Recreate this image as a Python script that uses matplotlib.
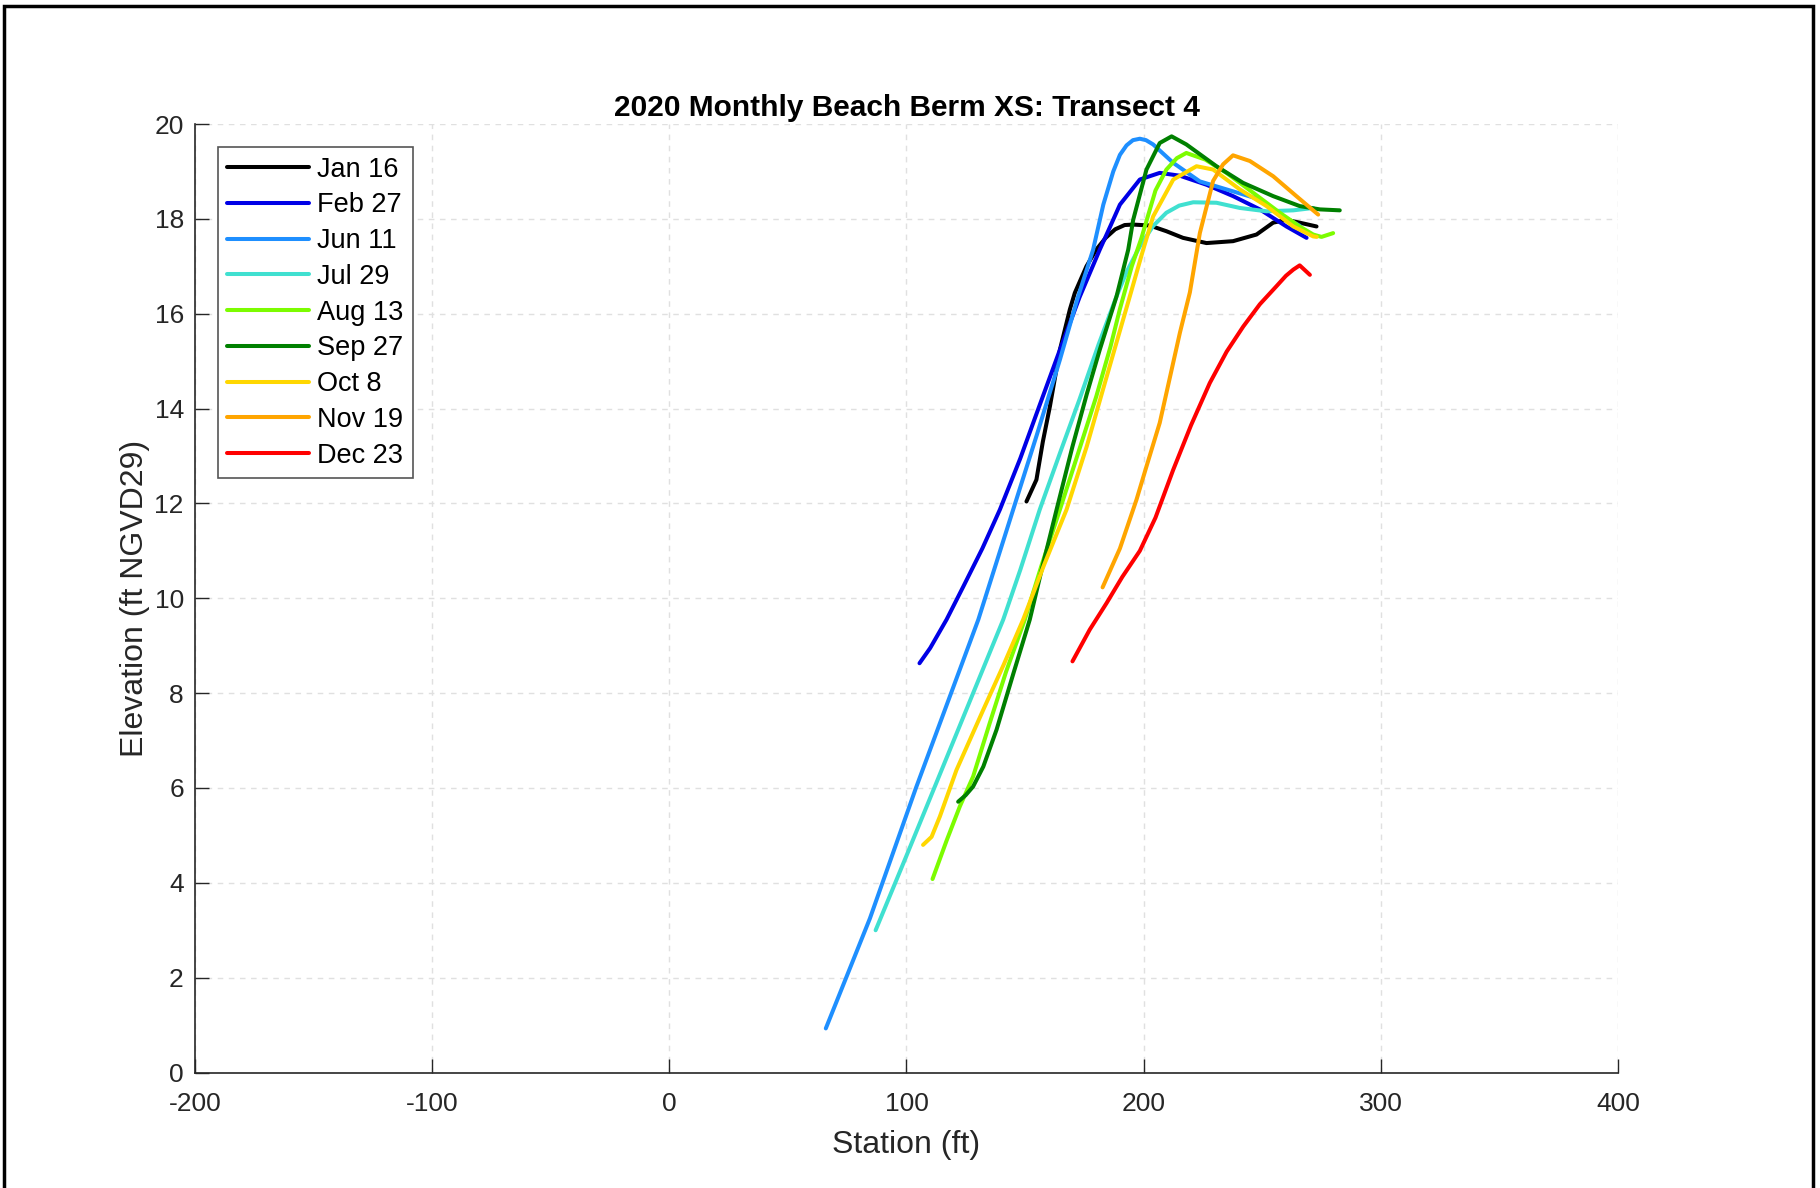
import matplotlib
matplotlib.use("Agg")
import matplotlib.pyplot as plt
from matplotlib.patches import Rectangle

plt.rcParams['font.family'] = ['Liberation Sans', 'DejaVu Sans']
plt.rcParams['axes.unicode_minus'] = False

# survey dates and colours
labels = ["Jan 16", "Feb 27", "Jun 11", "Jul 29", "Aug 13", "Sep 27", "Oct 8", "Nov 19", "Dec 23"]
colors = ["#000000", "#0000e6", "#1e8fff", "#40e0d0", "#7cfc00", "#008000", "#ffd700", "#ffa500", "#ff0000"]

# station (ft) / elevation (ft NGVD29) per survey
jan_x = [150.6, 154.8, 157.5, 160.5, 164.7, 168.9, 171.0, 175.9, 180.0, 184, 188, 192, 195.6, 202.6, 209.6, 216.6, 226.5, 237.7, 247.6, 254.6, 260.2, 265.8, 272.9]
jan_y = [12.04, 12.5, 13.3, 14.05, 15.24, 16.09, 16.44, 17.0, 17.35, 17.6, 17.78, 17.87, 17.88, 17.86, 17.74, 17.6, 17.49, 17.53, 17.67, 17.92, 17.98, 17.92, 17.84]

feb_x = [105.5, 110, 116.9, 124, 132, 139.4, 148, 156, 164.7, 173, 181.5, 186, 190, 198.4, 206.8, 215.3, 226.5, 237.7, 249, 260.2, 268.7]
feb_y = [8.63, 8.95, 9.55, 10.25, 11.05, 11.87, 12.95, 14.05, 15.24, 16.35, 17.35, 17.85, 18.3, 18.83, 18.97, 18.91, 18.72, 18.48, 18.2, 17.84, 17.6]

jun_x = [66, 84.6, 104, 130.3, 145, 155, 164.7, 172, 178.7, 183, 187.2, 190, 192.8, 195.5, 198.4, 201, 204, 212.5, 223.7, 237.7, 249, 256, 266]
jun_y = [0.93, 3.25, 6.0, 9.55, 11.87, 13.45, 15.03, 16.3, 17.35, 18.3, 19.0, 19.35, 19.55, 19.66, 19.69, 19.66, 19.57, 19.18, 18.79, 18.58, 18.41, 18.13, 17.85]

jul_x = [87, 100, 115, 130, 140.8, 148, 156.2, 165, 173, 181, 188.6, 193, 198.4, 204, 209.6, 215, 220.9, 230.7, 240.6, 251.8, 263.1, 271.5]
jul_y = [3.0, 4.57, 6.4, 8.23, 9.55, 10.6, 11.87, 13.1, 14.2, 15.35, 16.37, 16.9, 17.42, 17.85, 18.13, 18.28, 18.35, 18.34, 18.23, 18.16, 18.18, 18.23]

aug_x = [111, 117, 122.5, 128.1, 135, 142, 149.9, 157, 164.7, 172, 180, 186, 190, 195, 199.1, 205, 209.6, 214, 218, 226, 234.9, 246.2, 257.4, 265.8, 271.5, 275, 279.9]
aug_y = [4.08, 4.9, 5.61, 6.24, 7.35, 8.45, 9.55, 10.7, 11.87, 13.0, 14.25, 15.3, 16.1, 17.0, 17.6, 18.6, 19.04, 19.28, 19.39, 19.25, 18.97, 18.55, 18.13, 17.84, 17.67, 17.62, 17.7]

sep_x = [121.8, 125, 128.1, 132.4, 138, 145, 152, 157, 163.3, 170, 176, 181.5, 188.6, 193.5, 195.6, 201.2, 206.8, 211.8, 218, 230.7, 241.9, 254.6, 265.8, 274.3, 282.7]
sep_y = [5.71, 5.85, 6.03, 6.45, 7.23, 8.4, 9.55, 10.6, 11.87, 13.2, 14.3, 15.24, 16.37, 17.35, 17.98, 19.04, 19.6, 19.74, 19.57, 19.11, 18.76, 18.48, 18.27, 18.2, 18.18]

oct_x = [107, 110.6, 114.1, 121.1, 132.4, 141, 149.2, 158, 167.5, 176, 184, 194.2, 199.8, 204, 212.5, 222.3, 229.3, 240.6, 251.8, 263.1, 271.5, 273]
oct_y = [4.8, 4.97, 5.4, 6.38, 7.65, 8.6, 9.55, 10.7, 11.87, 13.2, 14.6, 16.37, 17.35, 18.05, 18.83, 19.11, 19.04, 18.62, 18.27, 17.84, 17.63, 17.62]

nov_x = [182.7, 190, 197, 201.2, 206.8, 215.3, 219.5, 223.7, 229.3, 233.5, 237.7, 244.8, 254.6, 264.4, 273.6]
nov_y = [10.23, 11.05, 12.08, 12.78, 13.7, 15.6, 16.45, 17.7, 18.8, 19.15, 19.34, 19.22, 18.9, 18.48, 18.09]

dec_x = [170, 177.3, 184.4, 191, 198.4, 205, 212.4, 220, 227.9, 235, 242, 249, 256, 260, 263.1, 265.8, 270.1]
dec_y = [8.67, 9.34, 9.9, 10.45, 11.0, 11.7, 12.7, 13.65, 14.54, 15.2, 15.73, 16.2, 16.58, 16.8, 16.93, 17.02, 16.82]

xs = [jan_x, feb_x, jun_x, jul_x, aug_x, sep_x, oct_x, nov_x, dec_x]
ys = [jan_y, feb_y, jun_y, jul_y, aug_y, sep_y, oct_y, nov_y, dec_y]

xticks = [-200, -100, 0, 100, 200, 300, 400]
yticks = [0, 2, 4, 6, 8, 10, 12, 14, 16, 18, 20]

fig = plt.figure(figsize=(18.2, 11.88), dpi=100)
ax = fig.add_axes([0.1071, 0.0972, 0.7819, 0.7984])

for x, y, c, lab in zip(xs, ys, colors, labels):
    ax.plot(x, y, color=c, lw=2.9, label=lab, solid_joinstyle='round', solid_capstyle='round')

ax.set_xlim(-200, 400)
ax.set_ylim(0, 20)
ax.set_xticks(xticks)
ax.set_yticks(yticks)
ax.grid(True, linestyle=(0, (4, 4)), color='#e0e0e0', lw=1)
ax.set_axisbelow(True)
for s in ['top', 'right']:
    ax.spines[s].set_visible(False)
for s in ['left', 'bottom']:
    ax.spines[s].set_color('#262626')
    ax.spines[s].set_linewidth(1.2)
ax.tick_params(direction='in', length=10, width=1, colors='#262626', labelsize=19)
ax.tick_params(axis='x', pad=14)
ax.tick_params(axis='y', pad=8)

ax.set_title("2020 Monthly Beach Berm XS: Transect 4", fontsize=21.5, fontweight='bold', pad=6)
ax.set_xlabel("Station (ft)", fontsize=23, color='#262626', labelpad=10)
ax.set_ylabel("Elevation (ft NGVD29)", fontsize=23, color='#262626', labelpad=3)

leg = ax.legend(loc='upper left', fontsize=19.5, handlelength=3.0, handletextpad=0.3,
                labelspacing=0.36, borderaxespad=0.85, fancybox=False, framealpha=1,
                edgecolor='#555555', borderpad=0.35)
leg.get_frame().set_linewidth(1.2)

# outer frame around the figure
fig.patches.append(Rectangle((0.002, -0.01), 0.994, 1.005, transform=fig.transFigure,
                             fill=False, edgecolor='black', lw=2.5))

fig.savefig("out.png", dpi=100)
